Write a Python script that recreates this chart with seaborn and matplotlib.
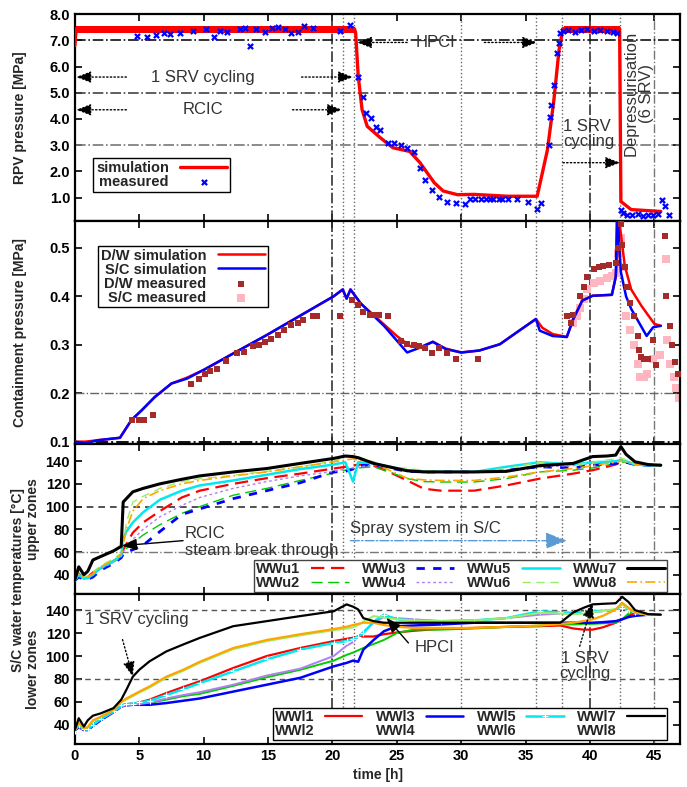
import numpy as np
import pandas as pd
import matplotlib
matplotlib.use('Agg')
import matplotlib.pyplot as plt
from matplotlib.lines import Line2D
import seaborn as sns


# DATOS
###################################

# RPV pressure [MPa]
t_rpv_sim = [0, 0.1, 21.7, 21.8, 22.0, 22.3, 22.7, 23.7, 24.7, 26.0, 26.8, 27.9, 28.6, 29.7,
             31.0, 33.6, 35.9, 36.7, 37.2, 37.6, 37.9, 42.3, 42.4, 43.2, 45.5]
p_rpv_sim = [6.8, 7.45, 7.45, 7.3, 5.65, 4.36, 3.72, 3.29, 2.9, 2.76, 2.33, 1.57, 1.25, 1.11,
             1.12, 1.05, 1.05, 2.83, 4.74, 6.65, 7.45, 7.45, 0.85, 0.54, 0.47]
# SRV cycling band of the simulation
srv1_t = [0.1, 21.7]
srv2_t = [38.0, 42.3]
srv_lo = 7.28
srv_hi = 7.56

t_rpv_meas = [4.8, 5.6, 6.3, 6.9, 7.4, 8.2, 9.2, 10.2, 10.8, 11.3, 11.8, 12.8, 13.2, 13.6, 14.1,
              14.8, 15.3, 15.8, 16.3, 16.8, 17.3, 17.8, 18.5, 20.6, 21.4, 21.95, 22.4, 22.6, 23.0,
              23.4, 23.7, 24.3, 24.8, 25.3, 25.8, 26.3, 26.8, 27.2, 27.7, 28.3, 28.9, 29.6, 30.3,
              30.7, 31.1, 31.5, 31.9, 32.2, 32.5, 32.9, 33.2, 33.6, 34.3, 35.2, 35.9, 36.2, 36.8,
              36.9, 37.0, 37.2, 37.4, 37.6, 37.7, 37.9, 38.3, 38.8, 39.3, 39.8, 40.3, 40.8, 41.3,
              41.8, 42.1, 42.4, 42.6, 42.9, 43.3, 43.7, 44.1, 44.5, 44.9, 45.3, 45.6, 45.8, 46.1]
p_rpv_meas = [7.18, 7.12, 7.21, 7.27, 7.23, 7.3, 7.37, 7.42, 7.12, 7.36, 7.33, 7.44, 7.49, 6.8, 7.42,
              7.31, 7.46, 7.52, 7.42, 7.27, 7.31, 7.55, 7.49, 7.36, 7.57, 5.62, 4.82, 4.22, 4.03,
              3.71, 3.58, 3.1, 3.07, 3.0, 2.91, 2.75, 2.11, 1.66, 1.3, 1.02, 0.83, 0.79, 0.74,
              0.96, 0.96, 0.96, 0.96, 0.96, 0.96, 0.96, 0.96, 0.96, 0.96, 0.83, 0.58, 0.79, 3.0,
              4.08, 4.53, 5.3, 6.51, 6.89, 7.27, 7.37, 7.4, 7.33, 7.38, 7.42, 7.36, 7.4, 7.37,
              7.33, 7.27, 0.53, 0.4, 0.35, 0.32, 0.36, 0.3, 0.33, 0.35, 0.38, 0.91, 0.66, 0.34]

# Containment pressure [MPa]
t_dw_sim = [0, 0.8, 1.8, 3.5, 4.4, 5.2, 6.2, 7.5, 8.7, 10.0, 12.3, 14.9, 17.5, 20.1, 20.8, 21.1,
            21.4, 22.2, 24.0, 25.0, 26.1, 27.0, 27.8, 28.8, 30.0, 31.4, 33.0, 34.5, 35.8, 36.3,
            37.1, 38.2, 38.7, 39.4, 40.2, 41.7, 42.0, 42.3, 42.7, 43.2, 44.0, 45.0, 45.5]
p_dw_sim = [0.1, 0.1, 0.103, 0.108, 0.145, 0.165, 0.192, 0.22, 0.232, 0.248, 0.282, 0.32, 0.36,
            0.40, 0.414, 0.395, 0.414, 0.385, 0.342, 0.318, 0.296, 0.297, 0.306, 0.292, 0.284,
            0.288, 0.301, 0.329, 0.353, 0.335, 0.322, 0.316, 0.353, 0.391, 0.401, 0.403, 0.44,
            0.55, 0.463, 0.414, 0.38, 0.343, 0.339]
t_sc_sim = [0, 0.8, 1.8, 3.5, 4.4, 5.2, 6.2, 7.5, 8.7, 10.0, 12.3, 14.9, 17.5, 20.1, 20.8, 21.1,
            21.4, 22.2, 24.0, 25.8, 26.8, 27.8, 28.8, 30.0, 31.4, 33.0, 34.5, 35.8, 36.1, 37.1,
            38.2, 38.7, 39.4, 40.2, 41.7, 42.0, 42.1, 42.4, 42.8, 43.2, 43.5, 44.4, 44.9, 45.5]
p_sc_sim = [0.1, 0.097, 0.103, 0.108, 0.145, 0.165, 0.192, 0.22, 0.23, 0.248, 0.282, 0.32, 0.36,
            0.40, 0.414, 0.395, 0.414, 0.385, 0.339, 0.284, 0.294, 0.306, 0.291, 0.284, 0.288,
            0.301, 0.329, 0.353, 0.329, 0.318, 0.316, 0.353, 0.391, 0.401, 0.403, 0.44, 0.58,
            0.45, 0.40, 0.374, 0.36, 0.318, 0.336, 0.339]

t_dw_meas = [4.4, 5.0, 5.4, 6.1, 9.0, 9.6, 10.1, 10.5, 11.0, 11.7, 12.6, 13.1, 13.8, 14.3, 14.8,
             15.2, 15.8, 16.2, 16.8, 17.3, 17.7, 18.5, 18.8, 20.6, 21.5, 22.0, 22.4, 22.9, 23.3,
             23.6, 24.3, 25.3, 25.8, 26.3, 26.7, 27.2, 27.7, 28.3, 28.9, 29.6, 31.3, 38.2, 38.5,
             38.7, 39.2, 39.5, 39.8, 40.3, 40.7, 41.0, 41.5, 42.0, 42.2, 42.4, 42.5, 42.7, 42.9,
             43.1, 43.4, 43.7, 43.8, 44.0, 44.2, 44.5, 44.9, 45.1, 45.8, 45.9, 46.2, 46.4, 46.6,
             46.8]
p_dw_meas = [0.145, 0.145, 0.145, 0.154, 0.219, 0.229, 0.24, 0.245, 0.25, 0.266, 0.282, 0.285,
             0.298, 0.30, 0.305, 0.312, 0.32, 0.33, 0.34, 0.345, 0.351, 0.36, 0.36, 0.36, 0.393,
             0.382, 0.368, 0.362, 0.362, 0.362, 0.359, 0.308, 0.301, 0.30, 0.298, 0.293, 0.282,
             0.293, 0.283, 0.271, 0.271, 0.359, 0.345, 0.361, 0.401, 0.42, 0.439, 0.457, 0.46,
             0.463, 0.465, 0.468, 0.5, 0.55, 0.506, 0.46, 0.42, 0.386, 0.36, 0.318, 0.29, 0.275,
             0.271, 0.271, 0.31, 0.258, 0.525, 0.40, 0.339, 0.30, 0.264, 0.24]
t_sc_meas = [38.7, 39.0, 39.2, 39.5, 39.8, 40.3, 40.8, 41.3, 41.7, 42.0, 42.2, 42.4, 42.5, 42.8,
             43.1, 43.4, 43.7, 43.9, 44.2, 44.4, 44.9, 45.4, 45.9, 46.0, 46.2, 46.5, 46.7, 46.9]
p_sc_meas = [0.345, 0.36, 0.375, 0.395, 0.414, 0.427, 0.432, 0.437, 0.442, 0.447, 0.49, 0.52,
             0.46, 0.36, 0.33, 0.30, 0.26, 0.234, 0.234, 0.24, 0.27, 0.278, 0.477, 0.31, 0.26,
             0.234, 0.21, 0.19]

# S/C water temperatures, upper zones [°C]
t_up = [0, 0.3, 0.7, 1.0, 1.4, 2.0, 3.0, 3.6, 3.75, 4.0, 4.5, 5.3, 6.6, 8.3, 9.7, 12.3, 14.9, 17.5,
        20.1, 21.0, 21.6, 22.0, 23.2, 24.4, 25.8, 27.1, 28.4, 31.0, 33.5, 36.1, 38.7, 40.2, 41.3,
        42.0, 42.4, 42.8, 43.5, 44.5, 45.5]
wwu1 = [35, 41, 37, 38, 42, 46, 52, 57, 62, 67, 77, 86, 96, 108, 114, 120, 125, 129, 133.5, 135,
        136, 137, 136, 130.5, 123, 115.7, 114, 114, 118.6, 124.6, 129, 132, 135, 137, 139.4, 139,
        137, 136.4, 136.4]
wwu2 = [35, 40, 36, 37, 40, 45, 51, 56, 60, 63, 68, 75, 84, 94, 100, 110, 116, 123, 129.6, 132,
        133.5, 134, 135, 130.5, 124.6, 122, 121.6, 121.6, 124.6, 130.5, 132, 134, 136.4, 138, 139,
        139, 137, 136.4, 136.4]
wwu3 = [35, 38, 36, 36, 38, 44, 50, 55, 58, 60, 62, 66, 78, 93, 98, 107, 114, 121, 130.5, 131,
        133, 136, 137, 134, 131, 130.5, 130.5, 130.5, 132, 135, 134, 136.4, 137.5, 138, 139, 139,
        137, 136.4, 136.4]
wwu4 = [35, 39, 36, 37, 40, 45, 51, 56, 60, 64, 71, 80, 91, 101, 108, 116, 122, 127, 131, 133,
        134, 135, 136.4, 134, 132, 131, 130.5, 130.5, 132, 135, 136, 138, 138.5, 139, 140, 139.5,
        137, 136.4, 136.4]
wwu5 = [35, 40, 37, 37, 40, 46, 52, 57, 71, 78, 86, 95, 106, 114, 118.6, 123, 128, 133, 137, 139,
        122, 139, 138, 135, 132, 131, 130.5, 130.5, 135, 139, 137, 139, 139.4, 140, 141, 140, 137,
        136.4, 136.4]
wwu6 = [35, 43, 38, 39, 42, 48, 54, 59, 66, 86, 104, 109, 116, 122, 124.5, 127.5, 131, 135, 140,
        143, 145, 144, 138, 135, 133.5, 132, 130.5, 130.5, 133.5, 139, 136.4, 139, 141, 142, 143,
        141, 137, 136.4, 136.4]
wwu7 = [35.6, 47, 40, 43, 53, 56, 61, 65, 104, 107, 113, 116, 120, 124, 127, 130.5, 133.5, 138,
        142.4, 144.5, 144, 143, 138, 135, 131.5, 130.5, 130.5, 130.5, 131, 136, 138, 144, 144.5,
        145.3, 152.8, 146, 139.4, 137, 136.4]
wwu8 = [35, 42, 38, 38, 41, 47, 53, 58, 66.7, 80, 96, 107, 114, 120, 123, 127, 130.5, 135, 139.4,
        141, 142, 141, 139.4, 132, 125, 123.5, 123, 123, 126, 130.5, 133.5, 136, 138, 139, 140,
        139.4, 137, 136.4, 136.4]

# S/C water temperatures, lower zones [°C]
t_lo = [0, 0.3, 0.7, 1.0, 1.4, 2.0, 3.0, 3.6, 4.0, 4.5, 5.0, 5.8, 7.1, 8.4, 9.7, 12.3, 14.9, 17.5,
        20.1, 21.1, 21.6, 22.0, 22.4, 23.2, 24.0, 25.0, 26.3, 28.4, 31.0, 33.5, 36.1, 37.7, 38.7,
        39.5, 40.2, 41.0, 42.0, 42.5, 43.0, 43.5, 44.5, 45.5]
wwl1 = [35, 40, 36, 37, 40, 45, 52, 57, 58, 58.5, 59.5, 62, 67.7, 73, 78, 89.6, 100, 107, 113, 115,
        116, 117, 117, 117, 119, 120.5, 122, 123.7, 124.5, 125.4, 126, 126.6, 124, 123, 123, 125,
        129, 132, 135, 137.7, 136.5, 136]
wwl2 = [35, 40, 36, 37, 40, 45, 51, 56, 57, 57.5, 58, 59, 62, 65, 67, 74, 81.5, 88, 96, 101, 103,
        105, 107, 110.5, 114, 120, 123, 123, 124, 125.4, 126.5, 127.5, 127.5, 128, 128, 128.5, 129,
        132, 137, 139, 136.5, 136]
wwl3 = [35, 38, 35.5, 35.5, 39, 44, 51, 56, 57, 57.5, 57.5, 57.5, 59, 61, 63, 69, 75, 81, 91, 94,
        96, 95, 105.6, 114, 121.6, 126, 126.6, 127.5, 129, 129, 129, 129, 129, 129, 129, 129.5,
        130.4, 132, 134, 135, 136, 136]
wwl4 = [35, 39, 36, 36, 40, 45, 51, 56, 57, 57.5, 58, 59.5, 63, 66, 68.5, 75, 83, 89, 100, 109,
        112, 117, 121, 129, 134, 133, 132, 130.4, 131, 133, 136, 137, 137, 138, 138.5, 139, 140,
        142, 140, 138, 136, 136]
wwl5 = [35, 40, 36, 36, 40, 45, 52, 57, 58, 58.5, 59.5, 61, 66, 71, 76.4, 86.6, 97, 105.6, 111.4,
        113, 115, 117, 120, 130, 136, 132, 131, 130.4, 131, 133, 139, 138, 137.7, 138, 139, 139.4,
        140, 142, 140, 138, 136, 136]
wwl6 = [35, 41, 37, 38, 43, 47, 53, 60, 62, 65, 68, 72.5, 81, 87, 94, 106, 113, 118, 122.5, 124,
        125, 127, 130, 134.8, 133.5, 132, 131, 130.4, 131, 133, 137.7, 137, 136.5, 137, 138, 139.4,
        141, 145, 141, 138, 136, 136]
wwl7 = [35.6, 45.8, 38.5, 44, 48, 50, 54.6, 62, 70.6, 82, 88, 95.4, 104, 110, 115.8, 126, 130.4,
        134.8, 139, 145, 143, 140.6, 133, 130.4, 129, 129, 129, 129, 129, 129, 129, 129, 138, 142,
        145, 145.5, 146, 151.6, 147, 140, 136.5, 136]
wwl8 = [35, 42, 37, 38, 44, 47, 53, 60, 63, 66, 69, 73.5, 82, 88, 95, 107, 114, 119, 123.5, 125.5,
        127, 128, 129, 129, 127, 125.5, 124.5, 124.5, 124.5, 125.4, 126.6, 128, 129, 130.5, 132,
        135, 140.6, 146.4, 142, 138, 136, 136]

up_names = ['WWu1', 'WWu2', 'WWu3', 'WWu4', 'WWu5', 'WWu6', 'WWu7', 'WWu8']
lo_names = ['WWl1', 'WWl2', 'WWl3', 'WWl4', 'WWl5', 'WWl6', 'WWl7', 'WWl8']

# eventos (lineas verticales)
event_t = [20.0, 20.8, 21.7, 30.0, 35.8, 37.8, 40.0, 42.3, 45.0]


# ESTILO
###################################
sns.set_style('ticks', {'xtick.direction': 'in', 'ytick.direction': 'in'})
plt.rcParams['font.family'] = ['Liberation Sans', 'DejaVu Sans']
plt.rcParams['axes.linewidth'] = 1.6

colors = ['#ff0000', '#00cc00', '#0000ff', '#b07ff0', '#00e8f0', '#99ee66', '#000000', '#ffa500']
up_ls = [(0, (6, 3)), (0, (8, 4)), (0, (3, 3)), (0, (2, 2)), '-', (0, (6, 4)), '-',
         (0, (6, 2, 1, 2))]
up_lw = [1.6, 1.0, 2.0, 1.0, 1.8, 1.0, 2.2, 1.2]
lo_lw = [1.6, 1.4, 1.8, 1.4, 1.8, 1.4, 1.6, 1.6]
note_col = '#333333'
leg_prop = {'weight': 'bold', 'size': 10.5}

fig = plt.figure(figsize=(6.87, 7.87), dpi=100)
gs = fig.add_gridspec(4, 1, height_ratios=[207, 223, 150, 150], hspace=0,
                      left=0.109, right=0.99, top=0.982, bottom=0.0546)
ax1 = fig.add_subplot(gs[0])
ax2 = fig.add_subplot(gs[1], sharex=ax1)
ax3 = fig.add_subplot(gs[2], sharex=ax1)
ax4 = fig.add_subplot(gs[3], sharex=ax1)
axes = [ax1, ax2, ax3, ax4]

# lineas verticales de eventos
ev_style = {20.0: ('-.', '#333333', 1.2), 40.0: ('-.', '#333333', 1.2), 45.0: ('-.', '#777777', 1.0)}
for ax in axes:
    for te in event_t:
        ls, c, lw = ev_style.get(te, (':', '#666666', 1.0))
        ax.axvline(te, ls=ls, color=c, lw=lw, zorder=1)


def arrow(ax, tail, head, ls=':', color='black', hl=0.9, hw=0.35):
    ax.annotate('', xy=head, xytext=tail,
                arrowprops=dict(arrowstyle='-|>,head_length=%s,head_width=%s' % (hl, hw),
                                color=color, lw=1.0, linestyle=ls, shrinkA=0, shrinkB=0))


# 1. RPV PRESSURE
###################################
for y, ls, c in [(7.0, '-.', '#111111'), (5.0, '-.', '#444444'), (3.0, '-.', '#777777')]:
    ax1.axhline(y, ls=ls, color=c, lw=1.2, zorder=1)

ax1.fill_between(srv1_t, srv_lo, srv_hi, color='red', lw=0, zorder=3)
ax1.fill_between(srv2_t, srv_lo, srv_hi, color='red', lw=0, zorder=3)
sns.lineplot(x=t_rpv_sim, y=p_rpv_sim, ax=ax1, color='red', lw=2.4, sort=False,
             estimator=None, label='simulation', zorder=3)
sns.scatterplot(x=t_rpv_meas, y=p_rpv_meas, ax=ax1, marker='x', color='blue', s=14,
                linewidth=1.6, label='measured', zorder=4)
ax1.set_ylim(0.1, 8.0)
ax1.set_yticks(np.arange(1, 8.5, 1.0))
ax1.set_yticklabels(['%.1f' % v for v in np.arange(1, 8.5, 1.0)])
ax1.set_ylabel('RPV pressure [MPa]')
ax1.legend(loc='upper left', bbox_to_anchor=(0.03, 0.305), markerfirst=False, fancybox=False,
           edgecolor='black', framealpha=1, handlelength=3.2, borderpad=0.2,
           labelspacing=0.0, handletextpad=0.8, borderaxespad=0, prop=leg_prop)

ax1.text(9.95, 5.6, '1 SRV cycling', ha='center', va='center', fontsize=12, color=note_col)
arrow(ax1, (4.0, 5.6), (0.1, 5.6))
arrow(ax1, (17.6, 5.6), (21.6, 5.6))
ax1.text(9.95, 4.35, 'RCIC', ha='center', va='center', fontsize=12, color=note_col)
arrow(ax1, (4.0, 4.35), (0.1, 4.35))
arrow(ax1, (16.9, 4.35), (20.75, 4.35))
ax1.text(28.0, 6.92, 'HPCI', ha='center', va='center', fontsize=12, color=note_col)
arrow(ax1, (25.8, 6.92), (21.9, 6.92))
arrow(ax1, (31.8, 6.92), (35.9, 6.92))
ax1.text(37.9, 3.44, '1 SRV\ncycling', ha='left', va='center', fontsize=12, color=note_col,
         linespacing=1.0)
arrow(ax1, (37.9, 2.33), (42.35, 2.33))
ax1.text(43.8, 4.98, 'Depressurisation\n(6 SRV)', ha='center', va='center', rotation=90,
         fontsize=12, color=note_col, linespacing=1.0)


# 2. CONTAINMENT PRESSURE
###################################
ax2.axhline(0.2, ls='-.', color='#666666', lw=1.0, zorder=1)
ax2.axhline(0.1, ls='-.', color='#111111', lw=1.4, zorder=1)
sns.lineplot(x=t_dw_sim, y=p_dw_sim, ax=ax2, color='red', lw=1.8, sort=False, estimator=None,
             label='D/W simulation', zorder=3)
sns.lineplot(x=t_sc_sim, y=p_sc_sim, ax=ax2, color='blue', lw=1.8, sort=False, estimator=None,
             label='S/C simulation', zorder=3)
sns.scatterplot(x=t_dw_meas, y=p_dw_meas, ax=ax2, marker='s', color='#a52a2a', s=16,
                linewidth=0, label='D/W measured', zorder=4)
sns.scatterplot(x=t_sc_meas, y=p_sc_meas, ax=ax2, marker='s', color='#ffb6c1', s=30,
                linewidth=0, label='S/C measured', zorder=2)
ax2.set_ylim(0.095, 0.555)
ax2.set_yticks([0.1, 0.2, 0.3, 0.4, 0.5])
ax2.set_yticklabels(['0.1', '0.2', '0.3', '0.4', '0.5'])
ax2.set_ylabel('Containment pressure [MPa]')
ax2.legend(loc='upper left', bbox_to_anchor=(0.038, 0.89), markerfirst=False, fancybox=False,
           edgecolor='black', framealpha=1, handlelength=3.2, borderpad=0.2,
           labelspacing=0.0, handletextpad=0.8, borderaxespad=0, prop=leg_prop)


# 3. S/C TEMPERATURES UPPER
###################################
ax3.axhline(100, ls=(0, (4, 3)), color='#333333', lw=1.2, zorder=1)
ax3.axhline(60, ls='-.', color='#777777', lw=1.0, zorder=1)
up_data = [wwu1, wwu2, wwu3, wwu4, wwu5, wwu6, wwu7, wwu8]
for i, name in enumerate(up_names):
    sns.lineplot(x=t_up, y=up_data[i], ax=ax3, color=colors[i], lw=up_lw[i], linestyle=up_ls[i],
                 sort=False, estimator=None, label=name, zorder=3 + (i == 6))
ax3.set_ylim(23, 155)
ax3.set_yticks([40, 60, 80, 100, 120, 140])
ax3.set_ylabel('upper zones')
ax3.legend(loc='lower right', bbox_to_anchor=(0.979, 0.013), ncol=4, markerfirst=False,
           fancybox=False, edgecolor='#444444', framealpha=1, handlelength=2.6, borderpad=0.15,
           labelspacing=0.0, handletextpad=0.7, columnspacing=0.9, borderaxespad=0,
           prop=leg_prop)

ax3.text(21.4, 80.4, 'Spray system in S/C', ha='left', va='center', fontsize=12, color=note_col)
arrow(ax3, (21.4, 70), (38.2, 70), ls='-.', color='#5b9bd5', hl=1.3, hw=0.5)
ax3.text(8.55, 69, 'RCIC\nsteam break through', ha='left', va='center', fontsize=12,
         color=note_col, linespacing=1.15)
arrow(ax3, (8.4, 70), (3.65, 65.6), ls='-')


# 4. S/C TEMPERATURES LOWER
###################################
ax4.axhline(140, ls=(0, (4, 3)), color='#555555', lw=1.0, zorder=1)
ax4.axhline(80, ls=(0, (4, 3)), color='#555555', lw=1.0, zorder=1)
lo_data = [wwl1, wwl2, wwl3, wwl4, wwl5, wwl6, wwl7, wwl8]
for i, name in enumerate(lo_names):
    mk = '+' if i == 4 else None
    sns.lineplot(x=t_lo, y=lo_data[i], ax=ax4, color=colors[i], lw=lo_lw[i], marker=mk,
                 markersize=4, sort=False, estimator=None, label=name, zorder=3 + (i == 6))
ax4.set_ylim(23.3, 154)
ax4.set_yticks([40, 60, 80, 100, 120, 140])
ax4.set_ylabel('lower zones')
h, l = ax4.get_legend_handles_labels()
h = [hh if k % 2 == 0 else Line2D([], [], ls='none') for k, hh in enumerate(h)]
ax4.legend(h, l, loc='lower right', bbox_to_anchor=(0.979, 0.027), ncol=4, markerfirst=False,
           fancybox=False, edgecolor='black', framealpha=1, handlelength=2.6, borderpad=0.15,
           labelspacing=0.0, handletextpad=0.7, columnspacing=0.9, borderaxespad=0,
           prop=leg_prop)

ax4.text(0.8, 131.8, '1 SRV cycling', ha='left', va='center', fontsize=12, color=note_col)
arrow(ax4, (3.7, 114.3), (4.5, 82))
ax4.text(26.4, 107, 'HPCI', ha='left', va='center', fontsize=12, color=note_col)
arrow(ax4, (25.9, 111.4), (24.2, 133.3), ls='-')
ax4.text(39.6, 91.7, '1 SRV\ncycling', ha='center', va='center', fontsize=12, color=note_col,
         linespacing=1.0)
arrow(ax4, (39.2, 108.5), (40.2, 146.4))

ax4.set_xlim(0, 47)
ax4.set_xticks(np.arange(0, 46, 5))
ax4.set_xlabel('time [h]', fontweight='bold', fontsize=10)

# EJES
###################################
ylab_x = {ax1: -0.079, ax2: -0.079, ax3: -0.058, ax4: -0.058}
for ax in axes:
    ax.tick_params(which='both', direction='in', top=True, right=True, length=5, width=1.2,
                   labelsize=10.5, colors='black')
    for lab in ax.get_yticklabels() + ax.get_xticklabels():
        lab.set_fontweight('bold')
    ax.yaxis.label.set_fontweight('bold')
    ax.yaxis.label.set_fontsize(10)
    ax.yaxis.set_label_coords(ylab_x[ax], 0.5)
    for sp in ax.spines.values():
        sp.set_color('black')
for ax in axes[:-1]:
    plt.setp(ax.get_xticklabels(), visible=False)

fig.text(0.026, 0.263, 'S/C water temperatures [°C]', rotation=90, ha='center', va='center',
         fontsize=10, fontweight='bold')

plt.savefig('out.png', dpi=100)
